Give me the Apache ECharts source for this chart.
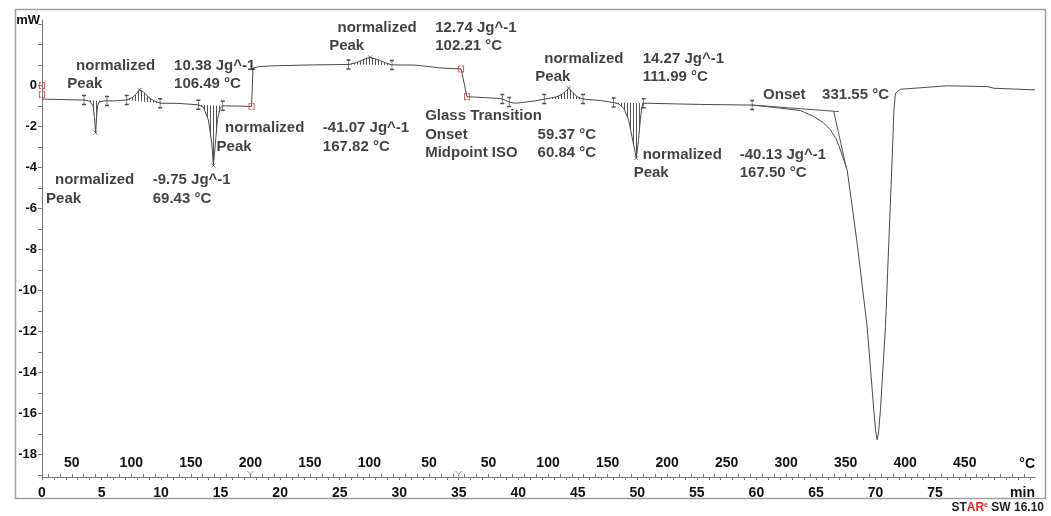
<!DOCTYPE html>
<html>
<head>
<meta charset="utf-8">
<script src="https://cdn.jsdelivr.net/npm/echarts@6/dist/echarts.min.js"></script>
<style>
  html, body { margin: 0; padding: 0; background: #ffffff; }
  #chart { width: 1051px; height: 516px; }
</style>
</head>
<body>
<div id="chart"></div>
<script>
// DSC run: heat 25 -> 200 °C, cool 200 -> 25 °C, heat 25 -> 500 °C (10 K/min)

// Temperature program (time in min, temperature in °C)
const programTime = [0, 17.5, 35, 82.5];
const programTemp = [25, 200, 25, 500];

// Heat flow curve, first heating
const heat1Time = [0, 1.5, 3.0, 3.53, 4.0, 4.29, 4.41, 4.5, 4.58, 4.66, 4.8, 5.2, 5.46, 6.3,
  7.12, 7.6, 7.9, 8.18, 8.5, 8.9, 9.4, 9.92, 11.5, 13.13, 13.55, 13.97, 14.26, 14.39, 14.54,
  14.73, 14.96, 15.18, 16.5, 17.6];
const heat1Flow = [-0.66, -0.68, -0.70, -0.70, -0.76, -1.0, -1.57, -2.3, -1.57, -1.0, -0.8, -0.75, -0.75, -0.74,
  -0.70, -0.58, -0.42, -0.21, -0.29, -0.54, -0.74, -0.86, -0.87, -0.94, -1.05, -1.67, -2.81, -3.9, -2.98,
  -1.67, -1.1, -0.99, -1.0, -1.02];

// Cooling
const coolTime = [17.72, 18.2, 19.16, 22.8, 25.74, 26.3, 26.72, 27.2, 27.56, 28.0, 28.4, 28.9,
  29.39, 31.3, 32.3, 33.5, 35.2];
const coolFlow = [0.85, 0.92, 0.96, 1.01, 1.03, 1.1, 1.2, 1.32, 1.38, 1.3, 1.22, 1.1,
  1.01, 1.0, 0.94, 0.86, 0.81];

// Second heating
const heat2Time = [35.69, 38.2, 38.66, 38.9, 39.24, 39.6, 40.0, 41.5, 42.18, 42.8, 43.25, 43.7,
  43.95, 44.23, 44.51, 44.93, 45.44, 46.9, 48.01, 48.43, 48.85, 49.27, 49.55, 49.92, 50.1,
  50.25, 50.39, 50.53, 55.3, 59.64, 62.0, 63.7, 64.82, 65.6, 66.22, 66.7, 67.06, 67.62,
  68.0, 68.46, 69.3, 69.86, 70.02, 70.14, 70.26, 70.42, 70.84, 71.12, 71.4, 71.55, 71.68, 72.1, 76.03, 79.39,
  79.94, 83.4];
const heat2Flow = [-0.54, -0.62, -0.65, -0.72, -0.8, -0.85, -0.85, -0.74, -0.66, -0.6, -0.54, -0.42,
  -0.29, -0.13, -0.29, -0.54, -0.66, -0.73, -0.83, -0.89, -1.1, -1.67, -2.49, -3.54, -2.65,
  -1.67, -1.02, -0.86, -0.92, -0.95, -1.1, -1.22, -1.51, -1.8, -2.16, -2.6, -3.14, -4.11,
  -5.7, -7.69, -11.76, -15.82, -16.9, -17.28, -16.9, -15.82, -11.76, -7.69, -3.62, -1.19, -0.37, -0.18, -0.01, -0.05,
  -0.13, -0.21];

// Integration limits of the evaluated peaks (min)
const peakStart = [3.53, 7.12, 13.13, 25.74, 42.18, 48.01];
const peakEnd   = [5.46, 9.92, 15.18, 29.39, 45.44, 50.53];
// Peak extremes
const peakTopTime = [4.5, 8.18, 14.39, 27.56, 44.23, 49.92];
const peakTopFlow = [-2.3, -0.21, -3.9, 1.38, -0.13, -3.54];

// Onset construction for the decomposition step
const onsetBaseTime = [59.64, 66.92];
const onsetBaseFlow = [-0.95, -1.27];
const onsetSlopeTime = [66.5, 67.55];
const onsetSlopeFlow = [-1.27, -4.0];

// Segment boundary markers
const segMarkTime = [0, 0, 17.6, 35.2, 35.69];
const segMarkFlow = [0.0, -0.45, -1.02, 0.81, -0.54];

// Glass transition limits
const gtTime = [38.66, 39.24];
const gtFlow = [-0.65, -0.8];

// Evaluation texts
const annoText = [
  'normalized', 'Peak', '10.38 Jg^-1', '106.49 °C',
  'normalized', 'Peak', '-9.75 Jg^-1', '69.43 °C',
  'normalized', 'Peak', '-41.07 Jg^-1', '167.82 °C',
  'normalized', 'Peak', '12.74 Jg^-1', '102.21 °C',
  'Glass Transition', 'Onset', 'Midpoint ISO', '59.37 °C', '60.84 °C',
  'normalized', 'Peak', '14.27 Jg^-1', '111.99 °C',
  'normalized', 'Peak', '-40.13 Jg^-1', '167.50 °C',
  'Onset', '331.55 °C'
];
const annoTime = [
  2.86, 2.13, 11.09, 11.09,
  1.09, 0.34, 9.30, 9.30,
  15.38, 14.66, 23.59, 23.59,
  24.82, 24.12, 33.03, 33.03,
  32.18, 32.18, 32.18, 41.62, 41.62,
  42.18, 41.43, 50.45, 50.45,
  50.45, 49.69, 58.60, 58.60,
  60.56, 65.52
];
const annoFlow = [
  0.98, 0.08, 0.98, 0.08,
  -4.60, -5.53, -4.60, -5.53,
  -2.08, -2.98, -2.08, -2.98,
  2.83, 1.94, 2.83, 1.94,
  -1.48, -2.41, -3.27, -2.41, -3.27,
  1.30, 0.41, 1.30, 0.44,
  -3.38, -4.27, -3.38, -4.27,
  -0.45, -0.45
];

// Axis labels
const timeTickLabels = [0, 5, 10, 15, 20, 25, 30, 35, 40, 45, 50, 55, 60, 65, 70, 75];
const flowTickLabels = [0, -2, -4, -6, -8, -10, -12, -14, -16, -18];

const AXIS_MIN_T = 0, AXIS_MAX_T = 83.4;
const AXIS_MIN_Y = -19.1, AXIS_MAX_Y = 3.2;

const FONT = "'Liberation Sans', Arial, sans-serif";

// ---- derived arrays ----
const curveTime = heat1Time.concat(coolTime, heat2Time);
const curveFlow = heat1Flow.concat(coolFlow, heat2Flow);
const curveData = curveTime.map((t, i) => [t, curveFlow[i]]);

function tempAt(t) {
  for (let i = 0; i < programTime.length - 1; i++) {
    if (t <= programTime[i + 1] + 1e-9) {
      const f = (t - programTime[i]) / (programTime[i + 1] - programTime[i]);
      return programTemp[i] + f * (programTemp[i + 1] - programTemp[i]);
    }
  }
  return programTemp[programTemp.length - 1];
}

// time positions where the program passes every 10 °C
const tempTickTimes = [];
const tempLabelTimes = [];
for (let i = 0; i < programTime.length - 1; i++) {
  const T0 = programTemp[i], T1 = programTemp[i + 1];
  const lo = Math.min(T0, T1), hi = Math.max(T0, T1);
  for (let m = Math.ceil(lo / 10) * 10; m <= hi; m += 10) {
    const t = programTime[i] + (m - T0) / (T1 - T0) * (programTime[i + 1] - programTime[i]);
    if (tempTickTimes.some(v => Math.abs(v - t) < 1e-6)) continue;
    tempTickTimes.push(t);
    if (m % 50 === 0 && m < 500) tempLabelTimes.push(t);
  }
}

const timeTickValues = [];
for (let t = 0; t <= AXIS_MAX_T; t += 1) timeTickValues.push(t);
const flowTickValues = [];
for (let v = -19; v <= 3; v += 1) flowTickValues.push(v);

// vertical hatching for integrated peak areas
const hatchCanvas = document.createElement('canvas');
hatchCanvas.width = 3; hatchCanvas.height = 4;
(function () {
  const g = hatchCanvas.getContext('2d');
  g.fillStyle = '#555555';
  g.fillRect(0, 0, 1, 4);
})();
const hatchFill = { image: hatchCanvas, repeat: 'repeat' };

const chart = echarts.init(document.getElementById('chart'));

const labelStyle = { fontFamily: FONT, fontWeight: 'bold', fontSize: 14, color: '#111' };

chart.setOption({
  animation: false,
  backgroundColor: '#ffffff',
  grid: { left: 42, right: 16, top: 20, bottom: 39, outerBoundsMode: 'none' },
  xAxis: [
    {
      type: 'value', min: AXIS_MIN_T, max: AXIS_MAX_T, position: 'bottom',
      name: 'min', nameLocation: 'end', nameGap: 0,
      nameTextStyle: Object.assign({}, labelStyle, { align: 'right', verticalAlign: 'top', padding: [9, 0, 0, 0] }),
      axisLine: { show: true, onZero: false, lineStyle: { color: '#777', width: 1 } },
      axisTick: { show: true, inside: false, length: 3, customValues: timeTickValues, lineStyle: { color: '#777' } },
      axisLabel: Object.assign({}, labelStyle, { margin: 9, customValues: timeTickLabels }),
      splitLine: { show: false }
    },
    {
      type: 'value', min: AXIS_MIN_T, max: AXIS_MAX_T, position: 'bottom',
      name: '°C', nameLocation: 'end', nameGap: 0,
      nameTextStyle: Object.assign({}, labelStyle, { align: 'right', verticalAlign: 'bottom', padding: [0, 0, 6, 0] }),
      axisLine: { show: false, onZero: false },
      axisTick: { show: true, inside: true, length: 3, customValues: tempTickTimes, lineStyle: { color: '#777' } },
      axisLabel: Object.assign({}, labelStyle, {
        inside: true, margin: 7, customValues: tempLabelTimes,
        formatter: v => String(Math.round(tempAt(v)))
      }),
      splitLine: { show: false }
    }
  ],
  yAxis: {
    type: 'value', min: AXIS_MIN_Y, max: AXIS_MAX_Y,
    name: 'mW', nameLocation: 'end', nameGap: 0,
    nameTextStyle: Object.assign({}, labelStyle, { fontSize: 13, align: 'right', verticalAlign: 'middle', padding: [0, 2, 0, 0] }),
    axisLine: { show: true, onZero: false, lineStyle: { color: '#777', width: 1 } },
    axisTick: { show: true, inside: false, length: 4, customValues: flowTickValues, lineStyle: { color: '#777' } },
    axisLabel: Object.assign({}, labelStyle, { fontSize: 13, margin: 5, customValues: flowTickLabels }),
    splitLine: { show: false }
  },
  graphic: [
    {
      type: 'rect', silent: true, z: -1,
      shape: { x: 15.5, y: 9.5, width: 1030, height: 489 },
      style: { fill: null, stroke: '#a0a0a0', lineWidth: 1.5 }
    },
    {
      type: 'text', silent: true, x: 1044, y: 508,
      style: {
        text: '{d|ST}{r|AR}{s|e}{d| SW 16.10}', align: 'right', verticalAlign: 'middle',
        rich: {
          d: { fontFamily: FONT, fontWeight: 'bold', fontSize: 12, fill: '#222' },
          r: { fontFamily: FONT, fontWeight: 'bold', fontSize: 12, fill: '#e8231f' },
          s: { fontFamily: FONT, fontWeight: 'bold', fontSize: 7, fill: '#e8231f', verticalAlign: 'top', padding: [0, 0, 6, 0] }
        }
      }
    }
  ],
  series: [
    {
      name: 'peak areas', type: 'custom', coordinateSystem: 'cartesian2d',
      encode: { x: [0, 1], y: 2 }, silent: true, z: 1,
      data: peakStart.map((s, i) => [s, peakEnd[i], 0]),
      renderItem: function (params, api) {
        const s = api.value(0), e = api.value(1);
        const pts = [];
        for (let i = 0; i < curveTime.length; i++) {
          if (curveTime[i] >= s - 1e-9 && curveTime[i] <= e + 1e-9) {
            pts.push(api.coord([curveTime[i], curveFlow[i]]));
          }
        }
        return { type: 'polygon', shape: { points: pts }, style: { fill: hatchFill, stroke: null } };
      }
    },
    {
      name: 'heat flow', type: 'line', data: curveData, showSymbol: false, silent: true, z: 3,
      lineStyle: { color: '#4a4a4a', width: 1 }
    },
    {
      name: 'onset baseline', type: 'line', showSymbol: false, silent: true, z: 3,
      data: onsetBaseTime.map((t, i) => [t, onsetBaseFlow[i]]),
      lineStyle: { color: '#555', width: 1 }
    },
    {
      name: 'onset tangent', type: 'line', showSymbol: false, silent: true, z: 3,
      data: onsetSlopeTime.map((t, i) => [t, onsetSlopeFlow[i]]),
      lineStyle: { color: '#555', width: 1 }
    },
    {
      name: 'limits', type: 'scatter', silent: true, z: 4, clip: false,
      symbol: 'path://M0,0 L2,0 M1,0 L1,10 M0,10 L2,10', symbolSize: [4, 9],
      itemStyle: { color: 'rgba(0,0,0,0)', borderColor: '#222', borderWidth: 1 },
      data: peakStart.map((t, i) => [t, curveFlow[curveTime.indexOf(t)]])
        .concat(peakEnd.map(t => [t, curveFlow[curveTime.indexOf(t)]]))
        .concat(gtTime.map((t, i) => [t, gtFlow[i]]))
        .concat([[onsetBaseTime[0], onsetBaseFlow[0]]])
    },
    {
      name: 'peak points', type: 'scatter', silent: true, z: 4, clip: false,
      symbol: 'path://M0,0 L4,4 M4,0 L0,4', symbolSize: 4,
      itemStyle: { color: 'rgba(0,0,0,0)', borderColor: '#555', borderWidth: 1 },
      data: peakTopTime.map((t, i) => [t, peakTopFlow[i]])
    },
    {
      name: 'segments', type: 'scatter', silent: true, z: 5, clip: false,
      symbol: 'path://M2,0 L0,0 L0,6 L2,6 M4,0 L6,0 L6,6 L4,6', symbolSize: [5, 6],
      itemStyle: { color: 'rgba(0,0,0,0)', borderColor: '#e8231f', borderWidth: 1 },
      data: segMarkTime.map((t, i) => [t, segMarkFlow[i]])
    },
    {
      name: 'segment ticks', type: 'scatter', silent: true, z: 5, clip: false,
      symbol: 'path://M0,0 L3,4 L6,0 M3,4 L3,7', symbolSize: [6, 6], symbolOffset: [0, -3],
      itemStyle: { color: 'rgba(0,0,0,0)', borderColor: '#777', borderWidth: 1 },
      data: [[programTime[1], AXIS_MIN_Y], [programTime[2], AXIS_MIN_Y]]
    },
    {
      name: 'evaluation', type: 'scatter', silent: true, z: 6, clip: false,
      symbolSize: 0,
      data: annoText.map((s, i) => ({ name: s, value: [annoTime[i], annoFlow[i]] })),
      label: {
        show: true, position: 'right', distance: 0, formatter: p => p.name,
        fontFamily: FONT, fontWeight: 'bold', fontSize: 15, color: '#111'
      }
    }
  ]
});
</script>
</body>
</html>
